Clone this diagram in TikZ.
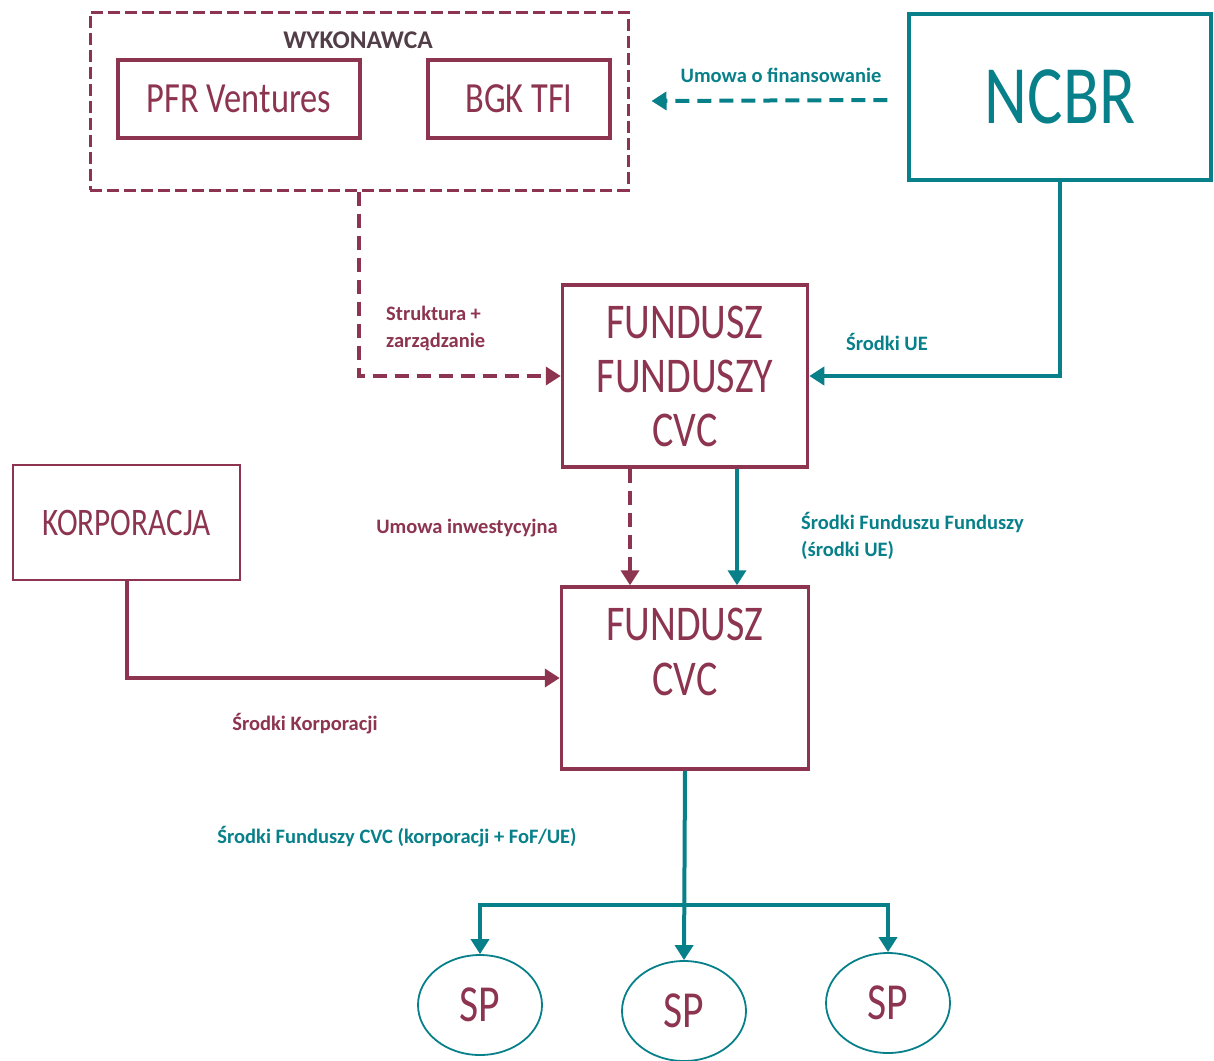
\documentclass[tikz,border=0pt]{standalone}
\usepackage{fontspec}
\setmainfont{Carlito}
\newfontfamily\boxfont[FakeStretch=0.8]{Carlito}
\usepackage{tikz}
\usetikzlibrary{positioning}
\usetikzlibrary{arrows.meta,shapes.geometric}
\definecolor{cvcred}{RGB}{140,52,80}
\definecolor{ncbrteal}{RGB}{8,128,138}
\definecolor{titlegray}{RGB}{82,62,70}
\tikzset{box/.style={draw=cvcred,line width=3.5pt,rectangle,inner sep=0pt,
           text=cvcred,align=center,font=\boxfont\fontsize{43}{54}\selectfont},
         tealbox/.style={box,draw=ncbrteal,text=ncbrteal},
         outerbox/.style={draw=cvcred,line width=3pt,dash pattern=on 12pt off 5pt,
           rectangle,inner sep=0pt},
         spnode/.style={ellipse,draw=ncbrteal,line width=1.8pt,inner sep=0pt,
           minimum width=124pt,minimum height=100pt,text=cvcred,
           font=\boxfont\fontsize{52}{60}\selectfont},
         tip/.style={-{Triangle[width=18pt,length=15pt]}},
         redflow/.style={draw=cvcred,line width=4pt,tip},
         tealflow/.style={draw=ncbrteal,line width=4pt,tip},
         reddash/.style={redflow,dash pattern=on 14pt off 8pt},
         tealdash/.style={tealflow,dash pattern=on 14pt off 8pt},
         lab/.style={font=\bfseries\fontsize{20.5}{27}\selectfont,align=left,inner sep=0pt}}

\begin{document}
\begin{tikzpicture}[x=1pt,y=-1pt]
  \useasboundingbox (0,0) rectangle (1214,1060);
  \node[outerbox,minimum width=538pt,minimum height=178pt] (wyk) at (359,101) {};
  \node[lab,text=titlegray,font=\bfseries\fontsize{25.5}{28}\selectfont] (wyktitle) at (358,40) {WYKONAWCA};
  \node[box,minimum width=242pt,minimum height=78pt] (pfr) at (239,99) {PFR Ventures};
  \node[box,minimum width=182pt,minimum height=78pt] (bgk) at (519,99) {BGK TFI};
  \node[tealbox,minimum width=302pt,minimum height=166pt,
        font=\boxfont\fontsize{83}{90}\selectfont] (ncbr) at (1060,97) {NCBR};
  \node[box,minimum width=245pt,minimum height=182pt,
        font=\boxfont\fontsize{50}{54}\selectfont] (ff) at (685,376) {FUNDUSZ\\FUNDUSZY\\CVC};
  \node[box,minimum width=247pt,minimum height=182pt,
        font=\boxfont\fontsize{50}{55}\selectfont] (fcvc) at (685,678) {FUNDUSZ\\CVC\\[-20pt]\strut};
  \node[box,line width=2pt,minimum width=227pt,minimum height=115pt,
        font=\boxfont\fontsize{39}{40}\selectfont] (korp) at (126.5,522.5) {KORPORACJA};
  \node[spnode] (sp1) at (480,1005) {SP};
  \node[spnode] (sp2) at (684,1011) {SP};
  \node[spnode] (sp3) at (888,1003) {SP};
  \coordinate (fork) at (685,905);

  \draw[tealdash] ([xshift=-20pt,yshift=-3pt]ncbr.west) -- ([xshift=22pt]wyk.east);
  \draw[reddash] (wyk.south) |- (ff.west);
  \draw[tealflow] (ncbr.south) |- (ff.east);
  \draw[reddash] ([xshift=-55pt]ff.south) -- ([xshift=-55pt]fcvc.north);
  \draw[tealflow] ([xshift=52pt]ff.south) -- ([xshift=52pt]fcvc.north);
  \draw[redflow] (korp.south) |- (fcvc.west);
  \draw[tealflow] (fcvc.south) -- (sp2.north);
  \draw[tealflow] (fork) -| (sp1.north);
  \draw[tealflow] (fork) -| (sp3.north);

  \node[lab,text=ncbrteal] (umowafin) at (781,75) {Umowa o finansowanie};
  \node[lab,text=cvcred,anchor=west] (struktura) at (386,328) {Struktura +\\zarządzanie};
  \node[lab,text=ncbrteal] (srodkiue) at (887,342) {Środki UE};
  \node[lab,text=cvcred] (umowainw) at (467,528) {Umowa inwestycyjna};
  \node[lab,text=ncbrteal,anchor=west] (srodkiff) at (801,536) {Środki Funduszu Funduszy\\(środki UE)};
  \node[lab,text=cvcred] (srodkikorp) at (305,724) {Środki Korporacji};
  \node[lab,text=ncbrteal] (srodkicvc) at (397,837) {Środki Funduszy CVC (korporacji + FoF/UE)};
\end{tikzpicture}
\end{document}
